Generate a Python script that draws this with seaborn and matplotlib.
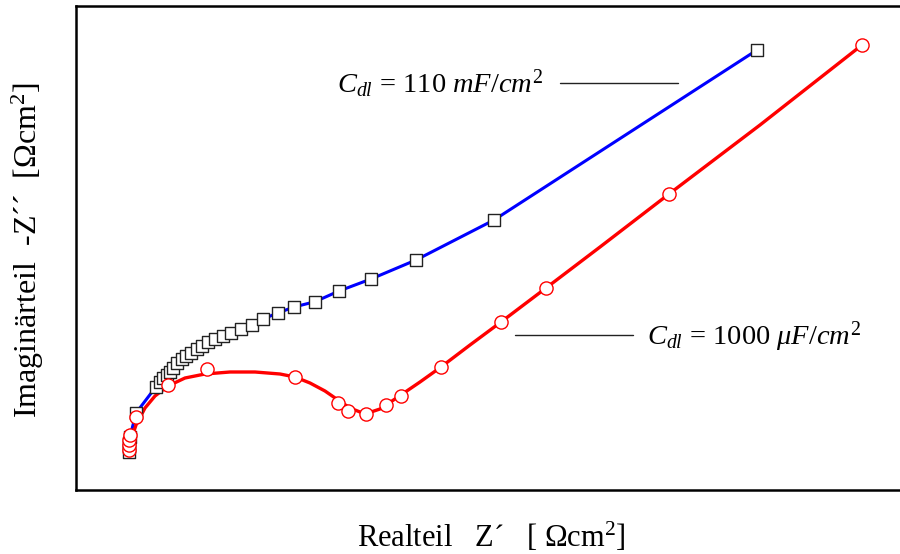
import matplotlib
matplotlib.use("Agg")
import matplotlib.pyplot as plt
import seaborn as sns
import pandas as pd

# ---- data (arbitrary impedance units) ----
# series 1: C_dl = 110 mF/cm^2 (squares, blue line)
sq_re = [52.5, 52.5, 53, 54, 60, 80, 84, 87, 90.7, 94, 97, 101, 106, 110, 114.7,
         120.7, 126, 132, 139, 146.7, 154.7, 164.7, 175.7, 187, 201.7, 218, 239,
         263, 295, 340, 418, 681]
sq_im = [38.5, 43, 47, 53, 77, 103.3, 108, 112, 115, 118, 122, 127, 131, 134, 137.3,
         141, 144.3, 148, 151, 154, 157.3, 161, 165, 171, 177, 183, 188.3,
         199, 211, 230, 270, 440]

# series 2: C_dl = 1000 uF/cm^2 (circles, red fit line)
ci_re = [53.3, 53.3, 53, 54, 60, 92, 130.7, 219, 261.7, 272, 290, 310, 325, 365,
         425, 470, 593, 786]
ci_im = [40, 45, 50, 55, 73.3, 105, 120.7, 113.3, 87.3, 79.3, 76, 85, 94, 123,
         168, 202, 296, 445]
fit_re = [52, 55, 60, 69, 79, 92, 109, 129, 154, 179, 204, 219, 234, 249, 262,
          274, 284, 292, 304, 319, 344, 365, 394, 425, 470, 524, 593, 684, 786]
fit_im = [38, 50, 65, 82, 94, 104, 112, 116, 118, 118, 116, 113, 107, 99, 90,
          82, 78, 77, 81, 91, 108, 123, 145, 168, 202, 243, 296, 365, 445]

x_range = (0, 829)
y_range = (0, 484)

blue = pd.DataFrame({"re": sq_re, "im": sq_im})
red = pd.DataFrame({"re": ci_re, "im": ci_im})
redfit = pd.DataFrame({"re": fit_re, "im": fit_im})

sns.set_style("white")
plt.rcParams["font.family"] = ["Liberation Serif", "DejaVu Serif"]
plt.rcParams["mathtext.fontset"] = "custom"
plt.rcParams["mathtext.rm"] = "Liberation Serif"
plt.rcParams["mathtext.it"] = "Liberation Serif:italic"
plt.rcParams["mathtext.bf"] = "Liberation Serif:bold"
plt.rcParams["text.color"] = "black"

W, H = 900, 554
fig = plt.figure(figsize=(9, 5.54), dpi=100)
ax = fig.add_axes([76 / W, 64 / H, (905 - 76) / W, (490 - 6) / H])

sns.lineplot(data=blue, x="re", y="im", sort=False, color="#0000ff", lw=2.2,
             ax=ax, zorder=2)
sns.lineplot(data=redfit, x="re", y="im", sort=False, color="#ff0000", lw=2.4,
             ax=ax, zorder=3)
sns.scatterplot(data=blue, x="re", y="im", marker="s", s=85, facecolor="white",
                edgecolor="#222222", linewidth=1.0, ax=ax, zorder=4)
sns.scatterplot(data=red, x="re", y="im", marker="o", s=90, facecolor="white",
                edgecolor="#ff0000", linewidth=1.0, ax=ax, zorder=5)

ax.set_xlim(*x_range)
ax.set_ylim(*y_range)
ax.set_xticks([])
ax.set_yticks([])
for sp in ax.spines.values():
    sp.set_linewidth(1.8)
    sp.set_color("black")
ax.set_xlabel("")
ax.set_ylabel("")

fig.text(491 / W, 1 - 537 / H, r"Realteil   Z´   [ $\Omega$cm$^2$]",
         ha="center", va="center", fontsize=22)
fig.text(28 / W, 1 - 250 / H, r"Imaginärteil  -Z´´  [$\Omega$cm$^2$]",
         ha="center", va="center", rotation=90, fontsize=23)

fig.text(337 / W, 1 - 93 / H, r"$C_{dl}$ = 110 $mF/cm^2$",
         ha="left", va="baseline", fontsize=20.5)
fig.add_artist(plt.Line2D([560 / W, 678 / W], [1 - 82.7 / H, 1 - 82.7 / H],
                          color="#222222", lw=1.0))
fig.text(647 / W, 1 - 345 / H, r"$C_{dl}$ = 1000 $\mu F/cm^2$",
         ha="left", va="baseline", fontsize=20.5)
fig.add_artist(plt.Line2D([515 / W, 633 / W], [1 - 335 / H, 1 - 335 / H],
                          color="#222222", lw=1.0))

fig.savefig("out.png", dpi=100)
